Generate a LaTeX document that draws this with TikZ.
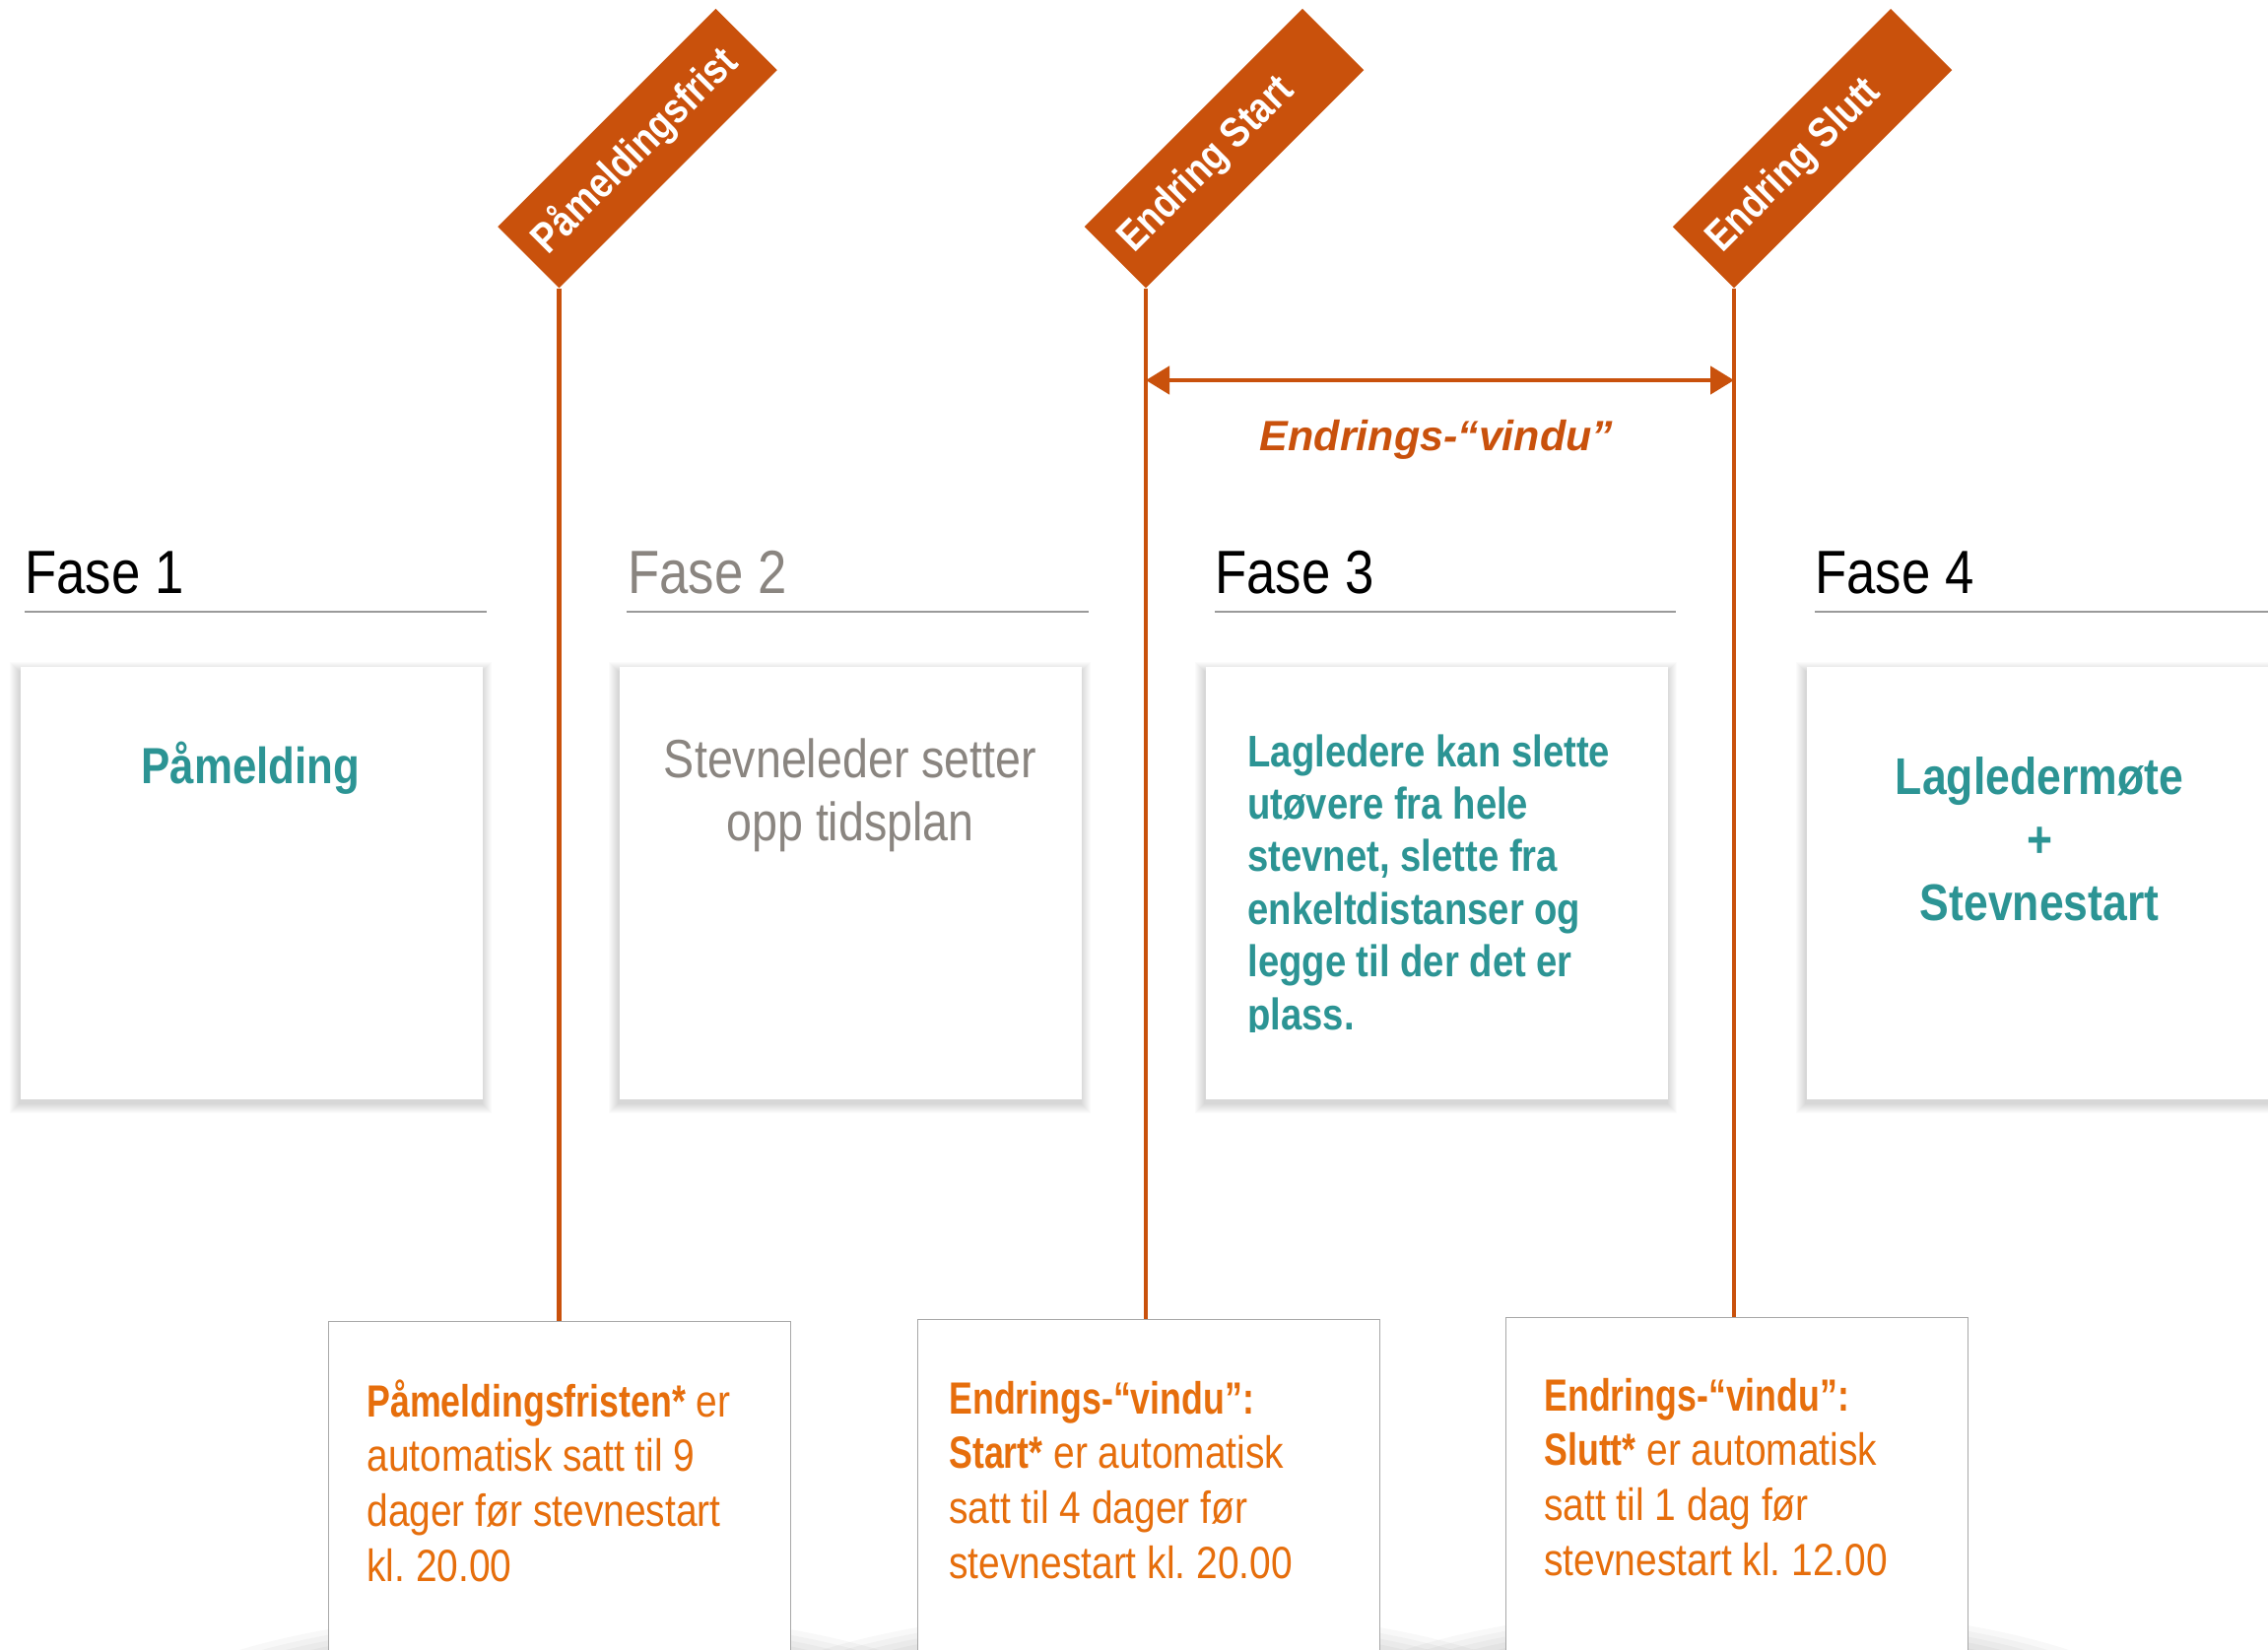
\documentclass[tikz,border=0pt]{standalone}
\usepackage{fontspec}
\setmainfont{Liberation Sans}[FakeStretch=0.85]
\newfontfamily\arialf{Liberation Sans}
\newfontfamily\notefont{Liberation Sans}[FakeStretch=0.85, BoldFeatures={FakeStretch=0.78}]
\usetikzlibrary{arrows.meta,calc}
\definecolor{banner}{HTML}{C9510C}
\definecolor{tealT}{HTML}{2C9494}
\definecolor{orangeT}{HTML}{E66E0C}
\definecolor{grayT}{HTML}{8A8580}
\definecolor{ruleC}{HTML}{9A9A9A}
\definecolor{boxline}{HTML}{A8A8A8}
\newcommand\bannertext[1]{\makebox[156.5pt][l]{\hspace{8pt}#1}}
\begin{document}
\frenchspacing
\begin{tikzpicture}[x=0.5pt,y=-0.5pt,
  bannerbox/.style={fill=banner, text=white, rotate=45, anchor=south west,
    minimum width=156.5pt, minimum height=44pt, inner sep=0pt,
    font=\fontsize{21.5}{25}\selectfont\bfseries},
  fasetxt/.style={anchor=base west, inner sep=0pt, font=\fontsize{31}{36}\selectfont},
  faserule/.style={draw=ruleC, line width=0.8pt},
  phasebox/.style={fill=white, minimum width=234.5pt, minimum height=219.5pt,
    anchor=north west, inner sep=0pt},
  notebox/.style={fill=white, draw=boxline, line width=0.7pt, minimum width=234.5pt,
    minimum height=180pt, anchor=north west, inner sep=0pt},
  vline/.style={draw=banner, line width=2.3pt},
  winarrow/.style={draw=banner, line width=2.3pt,
    {Triangle[length=12pt,width=14pt]}-{Triangle[length=12pt,width=14pt]}},
  notetxt/.style={anchor=base west, inner sep=0pt, text=orangeT}
]
\clip (0,0) rectangle (2302,1675);
\fill[white] (0,0) rectangle (2302,1675);

% ---- bottom note boxes: shadows first
\coordinate (bbA) at (333,1341);
\coordinate (bbB) at (931,1339);
\coordinate (bbC) at (1528,1337);
\foreach \c in {bbA,bbB,bbC}{
  \foreach \i in {0,...,14}{
    \pgfmathsetmacro\rx{120+7.5*\i}
    \pgfmathsetmacro\ry{30+2.5*\i}
    \fill[black,opacity=0.028] ($(\c)+(234.5,424)$) ellipse [x radius=\rx pt, y radius=\ry pt];
  }
}

% ---- phase boxes with soft shadows
\coordinate (pA) at (21,677);
\coordinate (pB) at (629,677);
\coordinate (pC) at (1224,677);
\coordinate (pD) at (1834,677);
\foreach \c in {pA,pB,pC,pD}{
  \foreach \i in {1,...,10}{
    \fill[black,opacity=0.014] ($(\c)+(-\i-1,-\i+5)$) rectangle ($(\c)+(469+\i-1,439+\i+4)$);
  }
}
\node[phasebox] (pb1) at (pA) {};
\node[phasebox] (pb2) at (pB) {};
\node[phasebox] (pb3) at (pC) {};
\node[phasebox] (pb4) at (pD) {};

% ---- note boxes
\node[notebox] (bb1) at (bbA) {};
\node[notebox] (bb2) at (bbB) {};
\node[notebox] (bb3) at (bbC) {};

% ---- phase headers
\node[fasetxt, text=black] (f1) at (25,602) {Fase 1};
\node[fasetxt, text=grayT] (f2) at (637,602) {Fase 2};
\node[fasetxt, text=black] (f3) at (1233,602) {Fase 3};
\node[fasetxt, text=black] (f4) at (1842,602) {Fase 4};
\draw[faserule] (25,621) -- (494,621);
\draw[faserule] (636,621) -- (1105,621);
\draw[faserule] (1233,621) -- (1701,621);
\draw[faserule] (1842,621) -- (2302,621);

% ---- banners
\node[bannerbox] (bn1) at (567.5,293) {\bannertext{Påmeldingsfrist}};
\node[bannerbox] (bn2) at (1163,293) {\bannertext{Endring Start}};
\node[bannerbox] (bn3) at (1760,293) {\bannertext{Endring Slutt}};

% ---- vertical lines
\draw[vline] (bn1.south west) -- (bn1.south west |- bb1.north);
\draw[vline] (bn2.south west) -- (bn2.south west |- bb2.north);
\draw[vline] (bn3.south west) -- (bn3.south west |- bb3.north);

% ---- change window arrow
\coordinate (arrowy) at (0,386);
\draw[winarrow] (bn2.south west |- arrowy) -- (bn3.south west |- arrowy);
\node[anchor=base, inner sep=0pt, text=banner,
  font=\arialf\fontsize{21.5}{26}\selectfont\bfseries\itshape] (lbl) at (1458,457) {Endrings-“vindu”};

% ---- phase box texts
\node[anchor=base, inner sep=0pt, text=tealT, font=\fontsize{25.8}{32}\selectfont\bfseries] (t1) at (254.5,795) {Påmelding};
\node[anchor=base, inner sep=0pt, text=grayT] (t2) at (863,789)
  {\parbox[t]{230pt}{\fontsize{27.4}{32}\selectfont\centering Stevneleder setter\\opp tidsplan}};
\begin{scope}
  \clip (1224,677) rectangle (1694,1047);
  \node[anchor=base west, inner sep=0pt, text=tealT] (t3) at (1266,778)
    {\parbox[t]{230pt}{\fontsize{22.5}{26.7}\selectfont\bfseries\raggedright
      Lagledere kan slette\\utøvere fra hele\\stevnet, slette fra\\enkeltdistanser og\\legge til der det er\\plass.}};
\end{scope}
\node[anchor=base, inner sep=0pt, text=tealT] (t4) at (2070,806)
  {\parbox[t]{230pt}{\fontsize{26.2}{32}\selectfont\bfseries\centering Lagledermøte\\+\\Stevnestart}};

% ---- note texts
\node[notetxt] (n1) at (372,1438)
  {\parbox[t]{220pt}{\notefont\fontsize{22.9}{27.85}\selectfont\raggedright
    \textbf{Påmeldingsfristen*} er\\automatisk satt til 9\\dager før stevnestart\\kl. 20.00}};
\node[notetxt] (n2) at (963,1435)
  {\parbox[t]{220pt}{\notefont\fontsize{22.9}{27.85}\selectfont\raggedright
    \textbf{Endrings-“vindu”:}\\\textbf{Start*} er automatisk\\satt til 4 dager før\\stevnestart kl. 20.00}};
\node[notetxt] (n3) at (1567,1432)
  {\parbox[t]{220pt}{\notefont\fontsize{22.9}{27.85}\selectfont\raggedright
    \textbf{Endrings-“vindu”:}\\\textbf{Slutt*} er automatisk\\satt til 1 dag før\\stevnestart kl. 12.00}};
\end{tikzpicture}
\end{document}
